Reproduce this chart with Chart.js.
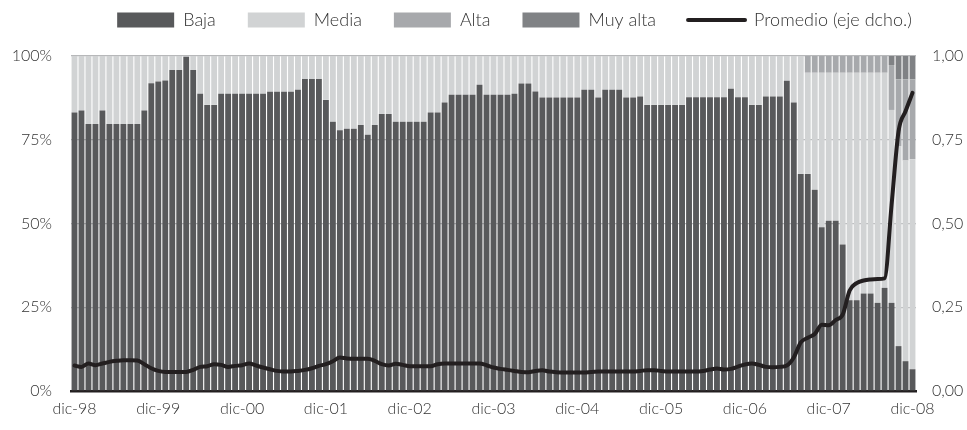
<!DOCTYPE html>
<html>
<head>
<meta charset="utf-8">
<script src="https://cdn.jsdelivr.net/npm/chart.js@4.4.1/dist/chart.umd.min.js"></script>
<style>
  body { margin: 0; background: #fff; }
  #wrap { width: 967px; height: 430px; }
</style>
</head>
<body>
<div id="wrap"><canvas id="myChart" width="967" height="430"></canvas></div>
<script>
// meses (dic-98 .. dic-08)
var meses = ['ene', 'feb', 'mar', 'abr', 'may', 'jun', 'jul', 'ago', 'sep', 'oct', 'nov', 'dic'];
var labels = ['dic-98'];
for (var a = 99; a <= 108; a++) {
  for (var m = 0; m < 12; m++) {
    labels.push(meses[m] + '-' + String(a % 100).padStart(2, '0'));
  }
}

// porcentajes (%)
var baja = [
  83.1, 83.7, 79.7, 79.7, 83.7, 79.7, 79.7, 79.7, 79.7, 79.7,
  83.7, 91.9, 92.4, 92.7, 95.8, 95.8, 99.8, 95.8, 88.7, 85.4,
  85.4, 88.7, 88.7, 88.7, 88.7, 88.7, 88.7, 88.7, 89.3, 89.3,
  89.3, 89.3, 89.9, 93.1, 93.1, 93.1, 86.9, 80.4, 77.8, 78.3,
  78.3, 79.4, 76.5, 79.4, 82.7, 82.7, 80.4, 80.4, 80.4, 80.4,
  80.4, 83.1, 83.1, 86.1, 88.4, 88.4, 88.4, 88.4, 91.4, 88.4,
  88.4, 88.4, 88.4, 88.7, 91.8, 91.8, 89.4, 87.6, 87.6, 87.6,
  87.6, 87.6, 87.6, 89.9, 89.9, 87.6, 89.9, 89.9, 89.9, 87.6,
  87.6, 87.9, 85.4, 85.4, 85.4, 85.4, 85.4, 85.4, 87.7, 87.7,
  87.7, 87.7, 87.7, 87.7, 90.2, 87.7, 87.7, 85.4, 85.4, 87.9,
  87.9, 87.9, 92.6, 86.1, 64.8, 64.8, 60.1, 48.9, 50.8, 50.8,
  43.7, 27.1, 27.1, 29.1, 29.1, 26.3, 30.8, 26.3, 13.4, 8.9,
  6.5
];
var media = [
  16.9, 16.3, 20.3, 20.3, 16.3, 20.3, 20.3, 20.3, 20.3, 20.3,
  16.3, 8.1, 7.6, 7.3, 4.2, 4.2, 0.2, 4.2, 11.3, 14.6,
  14.6, 11.3, 11.3, 11.3, 11.3, 11.3, 11.3, 11.3, 10.7, 10.7,
  10.7, 10.7, 10.1, 6.9, 6.9, 6.9, 13.1, 19.6, 22.2, 21.7,
  21.7, 20.6, 23.5, 20.6, 17.3, 17.3, 19.6, 19.6, 19.6, 19.6,
  19.6, 16.9, 16.9, 13.9, 11.6, 11.6, 11.6, 11.6, 8.6, 11.6,
  11.6, 11.6, 11.6, 11.3, 8.2, 8.2, 10.6, 12.4, 12.4, 12.4,
  12.4, 12.4, 12.4, 10.1, 10.1, 12.4, 10.1, 10.1, 10.1, 12.4,
  12.4, 12.1, 14.6, 14.6, 14.6, 14.6, 14.6, 14.6, 12.3, 12.3,
  12.3, 12.3, 12.3, 12.3, 9.8, 12.3, 12.3, 14.6, 14.6, 12.1,
  12.1, 12.1, 7.4, 13.9, 35.2, 30.2, 34.9, 46.1, 44.2, 44.2,
  51.3, 67.9, 67.9, 65.9, 65.9, 68.7, 64.2, 57.6, 59.6, 59.9,
  62.7
];
var alta = [
  0, 0, 0, 0, 0, 0, 0, 0, 0, 0, 0, 0, 0, 0, 0, 0, 0, 0, 0, 0,
  0, 0, 0, 0, 0, 0, 0, 0, 0, 0, 0, 0, 0, 0, 0, 0, 0, 0, 0, 0,
  0, 0, 0, 0, 0, 0, 0, 0, 0, 0, 0, 0, 0, 0, 0, 0, 0, 0, 0, 0,
  0, 0, 0, 0, 0, 0, 0, 0, 0, 0, 0, 0, 0, 0, 0, 0, 0, 0, 0, 0,
  0, 0, 0, 0, 0, 0, 0, 0, 0, 0, 0, 0, 0, 0, 0, 0, 0, 0, 0, 0,
  0, 0, 0, 0, 0, 5, 5, 5, 5, 5, 5, 5, 5, 5, 5, 5,
  5, 13.4, 20, 24.2, 23.8
];
var muyAlta = [
  0, 0, 0, 0, 0, 0, 0, 0, 0, 0, 0, 0, 0, 0, 0, 0, 0, 0, 0, 0,
  0, 0, 0, 0, 0, 0, 0, 0, 0, 0, 0, 0, 0, 0, 0, 0, 0, 0, 0, 0,
  0, 0, 0, 0, 0, 0, 0, 0, 0, 0, 0, 0, 0, 0, 0, 0, 0, 0, 0, 0,
  0, 0, 0, 0, 0, 0, 0, 0, 0, 0, 0, 0, 0, 0, 0, 0, 0, 0, 0, 0,
  0, 0, 0, 0, 0, 0, 0, 0, 0, 0, 0, 0, 0, 0, 0, 0, 0, 0, 0, 0,
  0, 0, 0, 0, 0, 0, 0, 0, 0, 0, 0, 0, 0, 0, 0, 0,
  0, 2.7, 7, 7, 7
];
// eje dcho.
var promedio = [
  0.076, 0.072, 0.082, 0.077, 0.082, 0.087, 0.090, 0.092, 0.092, 0.091,
  0.080, 0.068, 0.060, 0.057, 0.057, 0.057, 0.057, 0.063, 0.072, 0.074,
  0.080, 0.078, 0.072, 0.075, 0.077, 0.082, 0.076, 0.070, 0.065, 0.060,
  0.058, 0.058, 0.060, 0.063, 0.068, 0.075, 0.080, 0.089, 0.100, 0.097,
  0.096, 0.096, 0.096, 0.090, 0.080, 0.076, 0.081, 0.078, 0.074, 0.074,
  0.074, 0.074, 0.080, 0.082, 0.082, 0.082, 0.082, 0.082, 0.082, 0.077,
  0.070, 0.066, 0.063, 0.060, 0.057, 0.056, 0.060, 0.062, 0.058, 0.056,
  0.055, 0.055, 0.055, 0.055, 0.057, 0.058, 0.058, 0.058, 0.058, 0.058,
  0.058, 0.060, 0.062, 0.062, 0.060, 0.058, 0.058, 0.058, 0.058, 0.058,
  0.060, 0.064, 0.067, 0.064, 0.066, 0.073, 0.079, 0.082, 0.078, 0.072,
  0.071, 0.072, 0.076, 0.100, 0.145, 0.159, 0.170, 0.198, 0.196, 0.212,
  0.228, 0.300, 0.322, 0.330, 0.333, 0.334, 0.336, 0.555, 0.775, 0.835,
  0.890
];

var txtColor = '#333333';
var fuente = { family: 'Lato', size: 16, weight: '300' };
var fuenteLeyenda = { family: 'Lato', size: 18, weight: '300' };

// mueve la leyenda (arriba y algo a la derecha, como en el original)
var moverLeyenda = {
  id: 'moverLeyenda',
  afterLayout: function(chart) {
    var lg = chart.legend;
    lg.top -= 17; lg.bottom -= 17;
    lg.left += 28; lg.right += 28;
  }
};

function dibujar() {
  var ctx = document.getElementById('myChart').getContext('2d');
  var myChart = new Chart(ctx, {
    data: {
      labels: labels,
      datasets: [
        { type: 'bar', label: 'Baja', data: baja, backgroundColor: '#58595b', order: 1 },
        { type: 'bar', label: 'Media', data: media, backgroundColor: '#d1d3d4', order: 1 },
        { type: 'bar', label: 'Alta', data: alta, backgroundColor: '#a7a9ac', order: 1 },
        { type: 'bar', label: 'Muy alta', data: muyAlta, backgroundColor: '#808285', order: 1 },
        {
          type: 'line', label: 'Promedio (eje dcho.)', data: promedio, yAxisID: 'y1',
          borderColor: '#231f20', backgroundColor: '#231f20', borderWidth: 4,
          pointRadius: 0, cubicInterpolationMode: 'monotone', borderCapStyle: 'round',
          borderJoinStyle: 'round', order: 0
        }
      ]
    },
    options: {
      responsive: false,
      animation: false,
      layout: { padding: { top: -4, left: 10, right: 4, bottom: 3 } },
      datasets: {
        bar: { barPercentage: 0.84, categoryPercentage: 1.0, borderWidth: 0 }
      },
      plugins: {
        tooltip: { enabled: false },
        legend: {
          position: 'top',
          labels: {
            usePointStyle: true,
            pointStyleWidth: 57,
            boxHeight: 15,
            padding: 32,
            color: txtColor,
            font: fuenteLeyenda,
            generateLabels: function(chart) {
              var items = Chart.defaults.plugins.legend.labels.generateLabels(chart);
              items.sort(function(a, b) { return a.datasetIndex - b.datasetIndex; });
              items.forEach(function(it) {
                if (chart.data.datasets[it.datasetIndex].type === 'line') {
                  it.pointStyle = 'line';
                  it.lineWidth = 4;
                  it.strokeStyle = '#231f20';
                  it.lineCap = 'round';
                } else {
                  it.pointStyle = 'rect';
                  it.lineWidth = 0;
                }
              });
              return items;
            }
          }
        }
      },
      scales: {
        x: {
          stacked: true,
          z: 1,
          grid: { display: false },
          border: { color: '#231f20', width: 2.5 },
          afterFit: function(s) { s.height = 36; },
          ticks: {
            autoSkip: false,
            maxRotation: 0,
            padding: 0,
            color: txtColor,
            font: fuente,
            callback: function(v, i) { return i % 12 === 0 ? labels[i] : ''; }
          }
        },
        y: {
          stacked: true,
          min: 0,
          max: 100,
          z: 1,
          border: { display: false },
          afterFit: function(s) { s.width = 61; },
          grid: {
            drawTicks: false,
            lineWidth: 1.3,
            color: function(c) { return c.tick && c.tick.value === 0 ? 'rgba(0,0,0,0)' : '#b7b8ba'; }
          },
          ticks: {
            stepSize: 25,
            padding: 19,
            color: txtColor,
            font: fuente,
            callback: function(v) { return v + '%'; }
          }
        },
        y1: {
          position: 'right',
          min: 0,
          max: 1,
          border: { display: false },
          afterFit: function(s) { s.width = 47; },
          grid: { display: false, drawTicks: false },
          ticks: {
            stepSize: 0.25,
            padding: 16,
            color: txtColor,
            font: fuente,
            callback: function(v) { return v.toFixed(2).replace('.', ','); }
          }
        }
      }
    },
    plugins: [moverLeyenda]
  });
}

Promise.all([
  document.fonts.load('300 16px Lato'),
  document.fonts.load('300 18px Lato')
]).then(dibujar, dibujar);
</script>
</body>
</html>
